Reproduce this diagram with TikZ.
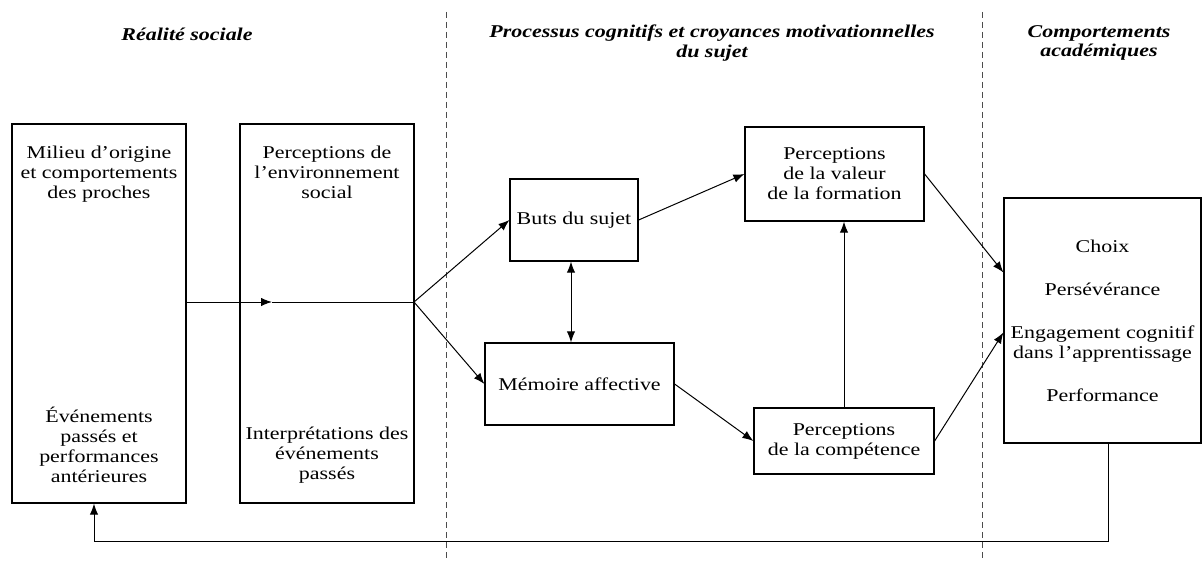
\documentclass[tikz,border=0pt]{standalone}
\usepackage{fontspec}
\setmainfont{Liberation Serif}[FakeStretch=1.22]
\usetikzlibrary{arrows.meta}

\begin{document}
\begin{tikzpicture}[x=0.5pt,y=-0.5pt,
  box/.style={draw,line width=0.6pt,inner sep=0pt},
  txt/.style={align=center,font=\fontsize{9}{10}\selectfont},
  titre/.style={align=center,font=\fontsize{9}{9.8}\selectfont\bfseries\itshape},
  fleche/.style={line width=0.5pt,-{Latex[length=5.5pt,width=4.2pt]}},
  doublefleche/.style={line width=0.5pt,{Latex[length=5.5pt,width=4.2pt]}-{Latex[length=5.5pt,width=4.2pt]}},
  trait/.style={line width=0.5pt},
  separation/.style={line width=0.5pt,black!70,dash pattern=on 3pt off 2pt}]
\useasboundingbox (0,0) rectangle (1203,561);
\node[titre] (tsociale) at (187,34) {Réalité sociale};
\node[titre] (tprocessus) at (712,43) {Processus cognitifs et croyances motivationnelles\\du sujet};
\node[titre] (tcomport) at (1099,43) {Comportements\\académiques};
\foreach \x in {446,982} {
\draw[separation] (\x,12) -- (\x,561);
}
\node[box,minimum width=87pt,minimum height=189.5pt] (milieu) at (99,313.5) {};
\node[box,minimum width=87pt,minimum height=189.5pt] (percep) at (327,313.5) {};
\node[box,minimum width=64pt,minimum height=41pt,txt] (buts) at (574,220) {Buts du sujet};
\node[box,minimum width=94.5pt,minimum height=41pt,txt] (memoire) at (579.5,384) {Mémoire affective};
\node[box,minimum width=89.5pt,minimum height=47pt,txt] (valeur) at (834.5,174) {Perceptions\\de la valeur\\de la formation};
\node[box,minimum width=90pt,minimum height=33pt,txt] (competence) at (844,441) {Perceptions\\de la compétence};
\node[box,minimum width=98.5pt,minimum height=122.5pt,txt] (comport) at (1102.5,320.5)
  {Choix\\[11.5pt]Persévérance\\[11.5pt]Engagement cognitif\\dans l’apprentissage\\[11.5pt]Performance};
\node[txt,anchor=north] (milieuhaut) at (99,139) {Milieu d’origine\\et comportements\\des proches};
\node[txt,anchor=south] (milieubas) at (99,490) {Événements\\passés et\\performances\\antérieures};
\node[txt,anchor=north] (percephaut) at (327,139) {Perceptions de\\l’environnement\\social};
\node[txt,anchor=south] (percepbas) at (327,490) {Interprétations des\\événements\\passés};
\coordinate (split) at (414,302);
\coordinate (pointe) at (272,302);
\coordinate (retour) at (94,541);
\draw[fleche] (milieu.east |- split) -- (pointe);
\draw[trait] (pointe) -- (split);
\draw[fleche] (split) -- (buts.west);
\draw[fleche] (split) -- (memoire.west);
\draw[doublefleche] ([xshift=-1.5pt]buts.south) -- ([xshift=-1.5pt]buts.south |- memoire.north);
\draw[fleche] (buts.east) -- (valeur.west);
\draw[fleche] (memoire.east) -- (competence.west);
\draw[fleche] (competence.north) -- (competence.north |- valeur.south);
\draw[fleche] (valeur.east) -- ([yshift=24pt]comport.west);
\draw[fleche] (competence.east) -- ([yshift=-6pt]comport.west);
\draw[fleche] ([xshift=3pt]comport.south) |- (retour) -- (retour |- milieu.south);
\end{tikzpicture}
\end{document}
